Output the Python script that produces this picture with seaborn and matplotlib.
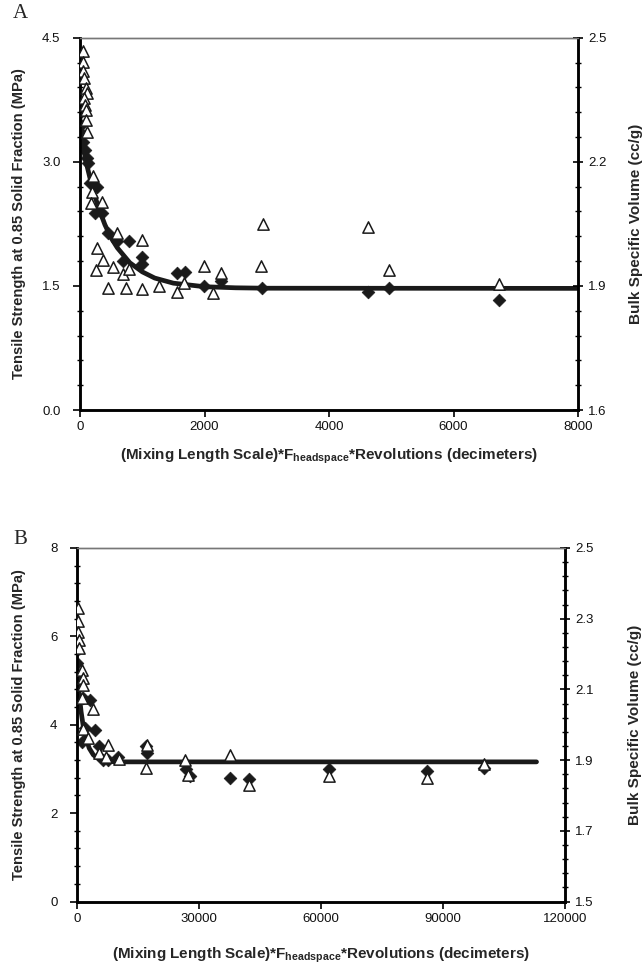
import matplotlib
matplotlib.use("Agg")
import matplotlib.pyplot as plt
import seaborn as sns
import pandas as pd
from matplotlib.ticker import MultipleLocator, FixedLocator, FormatStrFormatter

# ---------------- Panel A data ----------------
a_ts_x = [5, 5, 11, 27, 53, 80, 108, 133, 161, 268, 241, 349, 455, 590, 792, 686,
          991, 991, 1553, 1687, 1997, 2260, 2919, 4622, 4969, 6726]
a_ts_y = [3.69, 3.59, 3.45, 3.33, 3.24, 3.14, 3.04, 2.98, 2.74, 2.70, 2.38, 2.38, 2.14,
          2.04, 2.04, 1.80, 1.85, 1.77, 1.65, 1.67, 1.50, 1.56, 1.47, 1.43, 1.47, 1.33]
a_bsv_x = [43, 43, 53, 64, 96, 117, 64, 80, 96, 96, 117, 214, 188, 353, 172, 590, 268,
           365, 257, 535, 696, 787, 445, 739, 991, 996, 1274, 1553, 1676, 1997, 2141,
           2265, 2935, 2908, 4631, 4969, 6736]
a_bsv_y = [2.467, 2.442, 2.420, 2.403, 2.378, 2.366, 2.354, 2.338, 2.326, 2.302, 2.273,
           2.166, 2.128, 2.103, 2.100, 2.028, 1.991, 1.963, 1.939, 1.945, 1.928, 1.942,
           1.894, 1.894, 1.892, 2.011, 1.900, 1.886, 1.908, 1.947, 1.882, 1.931, 2.050,
           1.948, 2.042, 1.939, 1.905]
a_fit_x = [0, 100, 200, 300, 400, 500, 600, 800, 1000, 1200, 1500, 2000, 2500, 3000, 8000]
a_fit_y = [3.38, 2.99, 2.68, 2.44, 2.24, 2.08, 1.96, 1.78, 1.67, 1.595, 1.533, 1.49,
           1.477, 1.472, 1.47]
a_x_ticks = [0, 2000, 4000, 6000, 8000]
a_left_ticks = [0.0, 1.5, 3.0, 4.5]
a_right_ticks = [1.6, 1.9, 2.2, 2.5]

# ---------------- Panel B data ----------------
b_ts_x = [0, 0, 100, 320, 1550, 3200, 1970, 4430, 1150, 5500, 6450, 7500, 10150, 16900,
          17300, 26900, 27800, 37600, 42400, 62000, 86000, 100000]
b_ts_y = [5.69, 5.39, 5.09, 4.86, 4.60, 4.56, 3.92, 3.88, 3.62, 3.52, 3.20, 3.20, 3.26,
          3.52, 3.36, 3.00, 2.84, 2.80, 2.78, 3.00, 2.95, 3.02]
b_bsv_x = [320, 320, 250, 570, 570, 1150, 1550, 1400, 1150, 4000, 1550, 2780, 7700, 5480,
           7130, 10400, 17100, 16960, 26550, 27370, 37600, 42400, 62000, 86000, 100000]
b_bsv_y = [2.329, 2.293, 2.262, 2.240, 2.216, 2.155, 2.131, 2.112, 2.075, 2.044, 1.987,
           1.962, 1.943, 1.919, 1.910, 1.902, 1.943, 1.877, 1.900, 1.858, 1.914, 1.830,
           1.855, 1.850, 1.888]
b_fit_x = [0, 500, 1000, 1500, 2000, 3000, 4000, 5000, 6000, 8000, 10000, 113000]
b_fit_y = [5.35, 4.74, 4.30, 3.99, 3.76, 3.47, 3.32, 3.245, 3.20, 3.17, 3.16, 3.16]
b_x_ticks = [0, 30000, 60000, 90000, 120000]
b_left_ticks = [0, 2, 4, 6, 8]
b_right_ticks = [1.5, 1.7, 1.9, 2.1, 2.3, 2.5]

# ---------------- styling ----------------
sns.set_style("ticks")
plt.rcParams['font.family'] = ['Liberation Sans', 'DejaVu Sans']
plt.rcParams['mathtext.fontset'] = 'custom'
plt.rcParams['mathtext.rm'] = 'Liberation Sans:bold'
plt.rcParams['mathtext.bf'] = 'Liberation Sans:bold'
plt.rcParams['mathtext.it'] = 'Liberation Sans:bold'

fig = plt.figure(figsize=(6.44, 9.75), dpi=100)

XLABEL = r"(Mixing Length Scale)*F$_{\mathbf{headspace}}$*Revolutions (decimeters)"
YL = "Tensile Strength at 0.85 Solid Fraction (MPa)"
YR = "Bulk Specific Volume (cc/g)"


def style_axes(ax):
    for s in ['left', 'right', 'bottom']:
        ax.spines[s].set_color('black')
        ax.spines[s].set_linewidth(1.8)
    ax.spines['top'].set_color('#777777')
    ax.spines['top'].set_linewidth(1.0)


def panel(rect, ts_x, ts_y, bsv_x, bsv_y, fit_x, fit_y,
          xticks, lticks, lminor, lfmt, rticks, rminor, rfmt,
          ylab_x, rlab_x, xlab_y, letter, letter_xy):
    ax = fig.add_axes(rect)
    axr = ax.twinx()
    fit = pd.DataFrame({'x': fit_x, 'y': fit_y})
    ts = pd.DataFrame({'x': ts_x, 'y': ts_y})
    bsv = pd.DataFrame({'x': bsv_x, 'y': bsv_y})
    sns.lineplot(data=fit, x='x', y='y', ax=ax, color='#1a1a1a', lw=3.4,
                 sort=False, zorder=1)
    sns.scatterplot(data=ts, x='x', y='y', ax=ax, marker='D', s=42,
                    color='#1a1a1a', edgecolor='#1a1a1a', linewidth=0.5, zorder=3)
    sns.scatterplot(data=bsv, x='x', y='y', ax=axr, marker='^', s=66,
                    facecolor='white', edgecolor='#1a1a1a', linewidth=1.1, zorder=4)
    ax.set_xlim(xticks[0], xticks[-1])
    ax.set_ylim(lticks[0], lticks[-1])
    axr.set_ylim(rticks[0], rticks[-1])
    ax.xaxis.set_major_locator(FixedLocator(xticks))
    ax.yaxis.set_major_locator(FixedLocator(lticks))
    ax.yaxis.set_minor_locator(MultipleLocator(lminor))
    ax.yaxis.set_major_formatter(FormatStrFormatter(lfmt))
    axr.yaxis.set_major_locator(FixedLocator(rticks))
    axr.yaxis.set_minor_locator(MultipleLocator(rminor, offset=rticks[0] % rminor))
    axr.yaxis.set_major_formatter(FormatStrFormatter(rfmt))
    ax.xaxis.set_major_formatter(FormatStrFormatter('%d'))
    for a in (ax, axr):
        style_axes(a)
        a.tick_params(axis='both', which='major', labelsize=9.5, width=1.2,
                      length=5, color='black', labelcolor='#111111')
        a.tick_params(axis='y', which='minor', width=1.0, length=4,
                      direction='inout', color='black')
    ax.tick_params(axis='y', which='major', direction='out', pad=9)
    axr.tick_params(axis='y', which='major', direction='inout', length=7, pad=4)
    ax.tick_params(axis='x', which='major', direction='out', pad=3)
    ax.set_xlabel(XLABEL, fontsize=11, fontweight='bold')
    ax.set_ylabel(YL, fontsize=10.6, fontweight='bold')
    axr.set_ylabel(YR, fontsize=11, fontweight='bold', rotation=90)
    ax.yaxis.set_label_coords(ylab_x, 0.5)
    axr.yaxis.set_label_coords(rlab_x, 0.5)
    ax.xaxis.set_label_coords(0.5, xlab_y)
    fig.text(letter_xy[0], letter_xy[1], letter, fontsize=15,
             family=['Liberation Serif', 'DejaVu Serif'], ha='left', va='center')
    return ax, axr


# panel A: axes from x 80..578 px, y 37.7..410 px
panel([80 / 644, 1 - 410 / 975, 498 / 644, 372.3 / 975],
      a_ts_x, a_ts_y, a_bsv_x, a_bsv_y, a_fit_x, a_fit_y,
      a_x_ticks, a_left_ticks, 0.3, '%.1f', a_right_ticks, 0.06, '%.1f',
      -0.108, 1.103, -0.098, 'A', (13 / 644, 1 - 14 / 975))

# panel B: axes from x 77..565 px, y 548..901.5 px
panel([77 / 644, 1 - 901.5 / 975, 488 / 644, 353.5 / 975],
      b_ts_x, b_ts_y, b_bsv_x, b_bsv_y, b_fit_x, b_fit_y,
      b_x_ticks, b_left_ticks, 0.4, '%d', b_right_ticks, 0.04, '%.1f',
      -0.105, 1.13, -0.125, 'B', (13 / 644, 1 - 540 / 975))

fig.savefig('out.png', dpi=100)
